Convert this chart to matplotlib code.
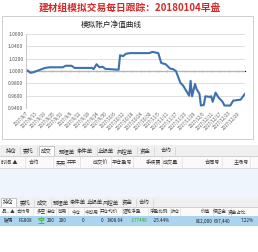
import matplotlib
matplotlib.use("Agg")
import matplotlib.pyplot as plt
from matplotlib.patches import Rectangle
import pandas as pd

plt.rcParams['font.family'] = ['Noto Sans CJK SC', 'DejaVu Sans']

W, H = 258, 252

title = "建材组模拟交易每日跟踪：20180104早盘"
chart_title = "模拟账户净值曲线"

# net value curve
nav_dates = ["2017-08-07", "2017-08-08", "2017-08-10", "2017-08-12", "2017-08-16",
             "2017-08-20", "2017-08-23", "2017-09-01", "2017-09-03", "2017-09-07",
             "2017-09-09", "2017-09-21", "2017-09-22", "2017-09-24", "2017-09-26",
             "2017-09-28", "2017-09-30", "2017-10-09", "2017-10-10", "2017-10-12",
             "2017-10-14", "2017-10-17", "2017-10-30", "2017-11-01", "2017-11-05",
             "2017-11-07", "2017-11-10", "2017-11-13", "2017-11-15", "2017-11-17",
             "2017-11-20", "2017-11-22", "2017-11-24", "2017-11-26", "2017-11-27",
             "2017-11-28", "2017-11-30", "2017-12-01", "2017-12-03", "2017-12-04",
             "2017-12-06", "2017-12-07", "2017-12-10", "2017-12-11", "2017-12-12",
             "2017-12-14", "2017-12-16", "2017-12-18", "2017-12-19", "2017-12-20",
             "2017-12-24", "2017-12-26", "2017-12-31", "2018-01-03"]
nav_values = [1.000, 1.001, 0.997, 0.998, 1.0015,
              1.005, 1.006, 1.006, 1.0085, 1.0085,
              1.005, 1.005, 1.003, 1.011, 1.006,
              1.007, 1.0035, 1.002, 1.0256, 1.024,
              1.028, 1.029, 1.029, 1.031, 1.029,
              1.013, 1.011, 1.004, 1.003, 1.000,
              0.981, 0.976, 0.968, 0.960, 0.984,
              0.959, 0.979, 0.971, 0.963, 0.944,
              0.945, 0.959, 0.958, 0.959, 0.950,
              0.965, 0.957, 0.952, 0.949, 0.944,
              0.944, 0.952, 0.9535, 0.963]
y_ticks = [0.94, 0.96, 0.98, 1.00, 1.02, 1.04, 1.06]
label_dates = pd.date_range("2017-08-07", "2017-12-29", freq="6D")

tabs = ["持仓", "委托", "成交", "预埋单", "条件单", "止损单", "风控单", "资金", "合约"]
trade_cols = ["时间 ▲", "合约", "买卖", "开平", "成交价", "平仓盈亏", "手续费", "成交量", "合同号", "主场号"]
pos_cols = ["品.. ▲", "合约号", "多空", "总仓", "可用", "今仓", "今可用", "开仓均价",
            "逐笔浮盈", "浮盈比例", "昨仓", "价值", "保证金", "资金占比"]
pos_row = ["玻璃", "FG808", "空", "200", "200", "0", "0", "1408.64",
           "-177440", "-25.44%", "", "812,000", "697,440", "7.22%"]

# layout (pixels)
tabs1_x = [11, 28, 46, 67, 85, 106, 125, 145, 166]
tabs2_x = [8, 25, 42, 61, 78, 95, 111, 127, 144]
trade_x = [9, 34, 61, 72, 101, 122, 153, 171, 212, 241]
trade_sep = [25, 53, 66, 80, 111, 133, 162, 182, 222, 250]
pos_x = [8, 24, 41, 51, 62, 76, 92, 109, 132, 159, 175, 205, 220, 237]
pos_sep = [16, 33, 46, 56, 68, 84, 100, 122, 148, 170, 180, 213, 231, 258]
pos_val_x = [8, 25, 41, 55, 67, 84, 103, 123, 148, 170, 176, 213, 230, 254]

fig = plt.figure(figsize=(W / 100, H / 100), dpi=100)
fig.patch.set_facecolor("white")

bg = fig.add_axes([0, 0, 1, 1])
bg.set_xlim(0, W)
bg.set_ylim(H, 0)
bg.axis('off')

bg.text(130, 8, title, color="#d22a2a", fontsize=7, fontweight='bold', ha='center', va='center')
bg.add_patch(Rectangle((2, 16), 251, 123, fill=False, ec="#c8c8c8", lw=0.6))
bg.text(111, 25, chart_title, color="#222222", fontsize=5.5, ha='center', va='center')

def tab_bar(y0, y1, xs, sel):
    bg.add_patch(Rectangle((0, y0), W, y1 - y0, fc="#f0f0f0", ec="none"))
    bg.plot([0, W], [y1, y1], color="#c0c0c0", lw=0.5)
    for i, (t, x) in enumerate(zip(tabs, xs)):
        w = 6.0 * len(t) + 3
        if i == sel:
            bg.add_patch(Rectangle((x - w / 2, y0 + 1), w, y1 - y0, fc="white", ec="#b0b0b0", lw=0.5))
        else:
            bg.plot([x + w / 2 + 1, x + w / 2 + 1], [y0 + 2, y1 - 1], color="#c8c8c8", lw=0.4)
        bg.text(x, (y0 + y1) / 2 + 0.5, t, fontsize=3.9, ha='center', va='center', color="#333333")

# trade panel
tab_bar(145, 156, tabs1_x, 2)
bg.add_patch(Rectangle((0, 156), W, 12, fc="#fafafa", ec="none"))
bg.plot([0, W], [168, 168], color="#d0d0d0", lw=0.5)
for s in trade_sep:
    bg.plot([s, s], [157, 167], color="#d8d8d8", lw=0.4)
for t, x in zip(trade_cols, trade_x):
    bg.text(x, 162.5, t, fontsize=3.7, ha='center', va='center', color="#333333")
bg.add_patch(Rectangle((0, 168), W, 29, fc="#eef5fc", ec="none"))

# position panel
tab_bar(197, 207, tabs2_x, 0)
bg.add_patch(Rectangle((0, 207), W, 9, fc="#fafafa", ec="none"))
for s in pos_sep:
    bg.plot([s, s], [208, 215], color="#d8d8d8", lw=0.4)
for t, x in zip(pos_cols, pos_x):
    bg.text(x, 211.5, t, fontsize=3.3, ha='center', va='center', color="#333333")
bg.add_patch(Rectangle((0, 216), W, 10, fc="#aad4ef", ec="none"))
for i, (t, x) in enumerate(zip(pos_row, pos_val_x)):
    col = "#20b020" if i in (2, 8) else "#222222"
    ha = 'center' if i < 3 else 'right'
    fs = 5 if i == 2 else 3.3
    bg.text(x, 221, t, fontsize=fs, ha=ha, va='center', color=col)

# chart
ax = fig.add_axes([26 / W, 1 - 108 / H, (245 - 26) / W, (108 - 34) / H])
ax.set_facecolor("none")
dates = pd.to_datetime(nav_dates)
ax.plot(dates, nav_values, color="#3f70b0", lw=1.5, solid_joinstyle='round')
ax.set_ylim(0.94, 1.06)
ax.set_xlim(pd.Timestamp("2017-08-07"), pd.Timestamp("2018-01-03"))
ax.set_yticks(y_ticks)
ax.set_yticklabels([f"{v:.4f}" for v in y_ticks], fontsize=3.6, color="#555555")
ax.set_xticks(label_dates)
ax.set_xticklabels([f"{d.year}/{d.month}/{d.day}" for d in label_dates],
                   rotation=45, ha='right', rotation_mode='anchor', fontsize=3.2, color="#555555")
ax.tick_params(axis='both', length=0, pad=2)
ax.grid(axis='y', color="#d9d9d9", lw=0.6)
for side in ['top', 'right', 'bottom']:
    ax.spines[side].set_visible(False)
ax.spines['left'].set_color("#bfbfbf")
ax.spines['left'].set_linewidth(0.6)

sec = ax.secondary_xaxis(0.5)
sec.set_xticks(label_dates)
sec.set_xticklabels([])
sec.tick_params(length=1.5, width=0.4, color="#a0a0a0", direction='inout')
sec.spines['bottom'].set_color("#b0b0b0")
sec.spines['bottom'].set_linewidth(0.6)

fig.savefig("out.png", dpi=100)
